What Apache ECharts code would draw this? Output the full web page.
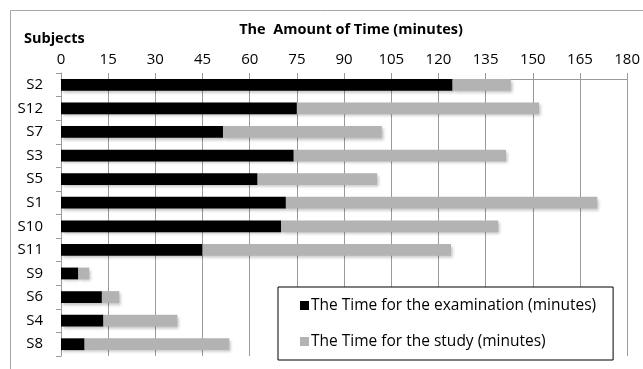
<!DOCTYPE html>
<html>
<head>
<meta charset="utf-8">
<script src="https://cdn.jsdelivr.net/npm/echarts@6/dist/echarts.min.js"></script>
<style>html,body{margin:0;padding:0;background:#fff;}#c{width:643px;height:369px;}</style>
</head>
<body>
<div id="c"></div>
<script>
var categories = ['S2','S12','S7','S3','S5','S1','S10','S11','S9','S6','S4','S8'];
var examTime = [124.5, 75, 51.5, 74, 62.5, 71.5, 70, 45, 5.5, 13, 13.5, 7.5];
var studyTime = [18.5, 77, 50.5, 67.5, 38, 99, 69, 79, 3.5, 5.5, 23.5, 46];
var xTicks = [0, 15, 30, 45, 60, 75, 90, 105, 120, 135, 150, 165, 180];
var seriesNames = ['The Time for the examination (minutes)', 'The Time for the study (minutes)'];

var FONT = '"Open Sans", "Liberation Sans", sans-serif';
var chart = echarts.init(document.getElementById('c'), null, {renderer: 'canvas'});
var shadow = {shadowColor: 'rgba(0,0,0,0.25)', shadowBlur: 3, shadowOffsetX: 2, shadowOffsetY: 2};
chart.setOption({
  animation: false,
  textStyle: {fontFamily: FONT},
  graphic: [{
    type: 'rect', shape: {x: 10.5, y: 10.5, width: 700, height: 400},
    style: {fill: 'none', stroke: '#a6a6a6', lineWidth: 1}, silent: true, z: -10
  }],
  title: [
    {text: 'The  Amount of Time (minutes)', left: 346, top: 17, textAlign: 'center',
     textStyle: {fontFamily: FONT, fontSize: 14.5, fontWeight: 'bold', color: '#000'}},
    {text: 'Subjects', left: 19, top: 26,
     textStyle: {fontFamily: FONT, fontSize: 14.5, fontWeight: 'bold', color: '#000'}}
  ],
  legend: {
    orient: 'vertical', left: 278, top: 287,
    padding: [9, 17, 9, 22], itemGap: 17, itemWidth: 9, itemHeight: 9,
    borderColor: '#000', borderWidth: 1, backgroundColor: '#fff',
    icon: 'rect', selectedMode: false,
    textStyle: {fontFamily: FONT, fontSize: 15.5, lineHeight: 19, color: '#000', padding: [0, 0, 0, -3]},
    data: seriesNames
  },
  grid: {left: 61, right: 14, top: 73, bottom: 13, containLabel: false},
  xAxis: {
    type: 'value', position: 'top', min: 0, max: 180, interval: 15, offset: -6,
    axisLine: {show: true, lineStyle: {color: '#9a9a9a', width: 1}},
    axisTick: {show: true, length: 5, lineStyle: {color: '#9a9a9a'}},
    axisLabel: {margin: 12, fontSize: 15, color: '#000', fontFamily: FONT,
      formatter: function (v) { return xTicks.indexOf(v) >= 0 ? String(v) : ''; }},
    splitLine: {show: true, lineStyle: {color: '#9a9a9a', width: 1}}
  },
  yAxis: {
    type: 'category', data: categories, inverse: true,
    axisLine: {show: true, lineStyle: {color: '#9a9a9a', width: 1}},
    axisTick: {show: true, length: 5, lineStyle: {color: '#9a9a9a'}},
    axisLabel: {margin: 18, fontSize: 15, color: '#000', fontFamily: FONT}
  },
  series: [
    {name: seriesNames[0], type: 'bar', stack: 't', data: examTime, barWidth: '50%',
     itemStyle: Object.assign({color: '#000'}, shadow)},
    {name: seriesNames[1], type: 'bar', stack: 't', data: studyTime, barWidth: '50%',
     itemStyle: Object.assign({color: '#b3b3b3'}, shadow)}
  ]
});
</script>
</body>
</html>
